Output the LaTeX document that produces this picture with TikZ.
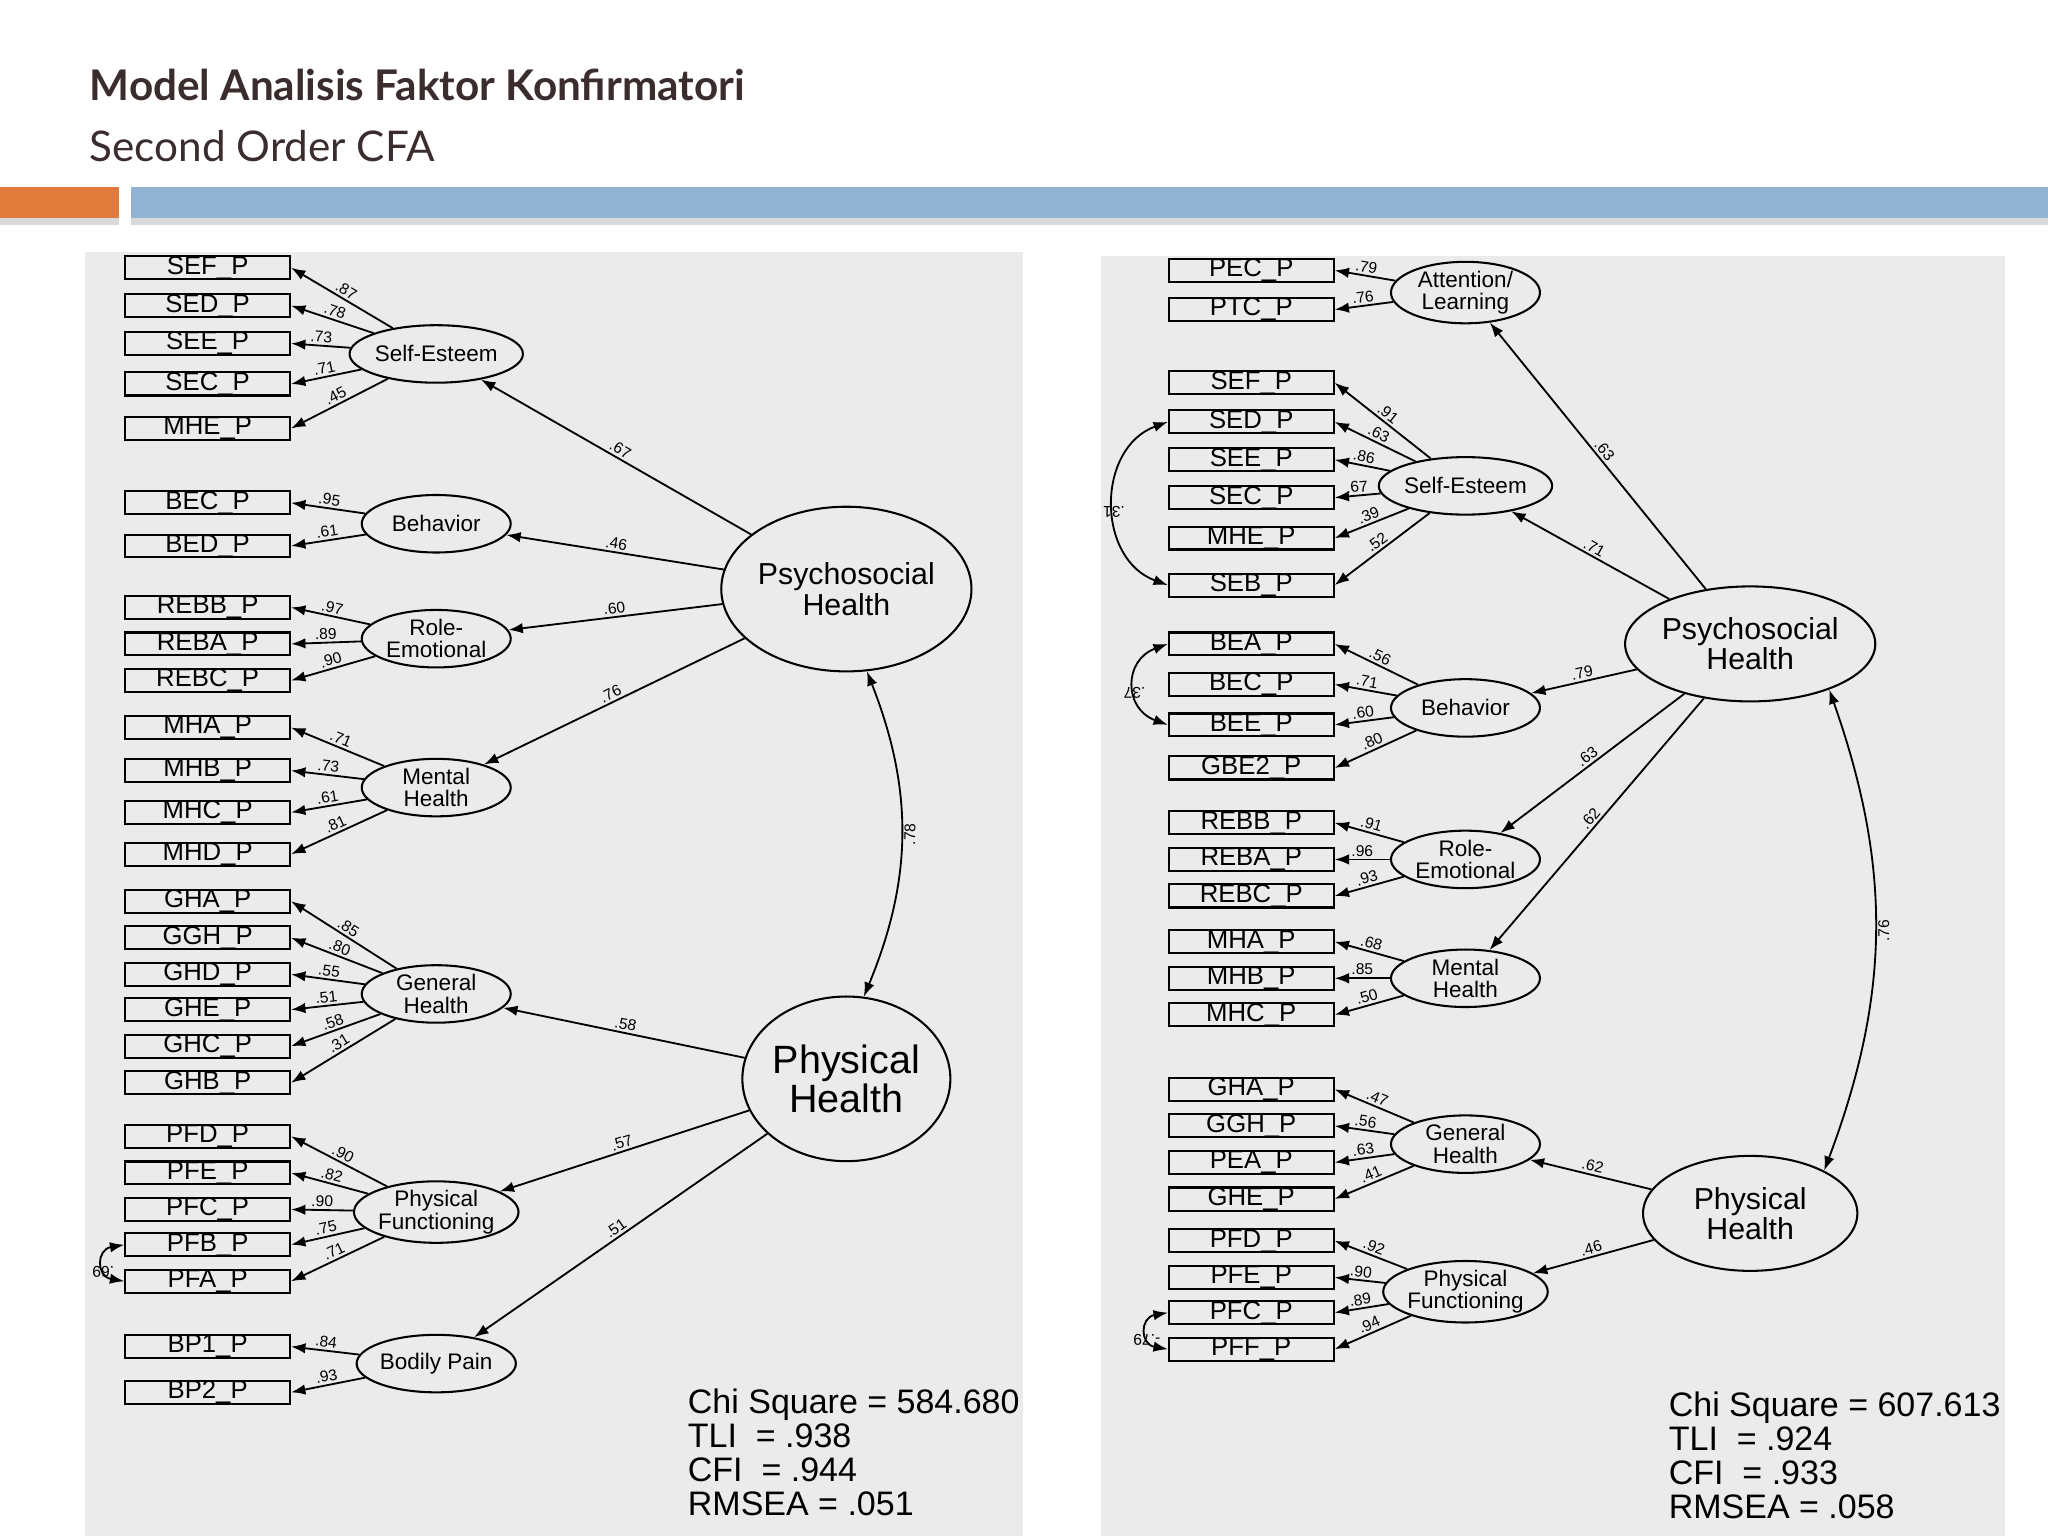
\documentclass[tikz,border=0pt]{standalone}
\usepackage{fontspec}
\setmainfont{Liberation Sans}
\newfontfamily\ttlfont{Lato}
\usetikzlibrary{shapes.geometric,arrows.meta,shadows}
\newcommand\fsz[1]{\fontsize{#1}{#1}\selectfont}
\definecolor{panel}{HTML}{EBEBEB}
\definecolor{ttl}{HTML}{3B2D2D}
\definecolor{orng}{HTML}{E07B3C}
\definecolor{blu}{HTML}{92B4D4}
\tikzset{
 ind/.style={draw,line width=0.45pt,minimum width=1.26cm,minimum height=0.17cm,inner sep=0pt,font=\fsz{5.6}},
 lat/.style={ellipse,draw,line width=0.45pt,minimum width=1.14cm,minimum height=0.44cm,inner sep=0pt,align=center,font=\fsz{4.9}},
 big/.style={ellipse,draw,line width=0.45pt,minimum width=1.56cm,minimum height=1.26cm,inner sep=0pt,align=center,font=\fsz{6.6}},
 arr/.style={line width=0.4pt,-{Latex[length=1.1mm,width=0.8mm]}},
 darr/.style={line width=0.4pt,{Latex[length=1.1mm,width=0.8mm]}-{Latex[length=1.1mm,width=0.8mm]}},
 ld/.style={font=\fsz{3.4},sloped,above,inner sep=0.5pt},
 fit/.style={anchor=north west,align=left,font=\fsz{7.4},inner sep=0pt}
}
\begin{document}
\begin{tikzpicture}[x=0.01cm,y=-0.01cm]
\useasboundingbox (0,0) rectangle (1568,1176);
\fill[white] (0,0) rectangle (1568,1176);
% header
\node[anchor=west,text=ttl,font=\ttlfont\bfseries\fsz{9.2},inner sep=0] (t1) at (68,65) {Model Analisis Faktor Konfirmatori};
\node[anchor=west,text=ttl,font=\ttlfont\fsz{9.2},inner sep=0] (t2) at (68,112) {Second Order CFA};
\fill[gray!30] (0,167) rectangle (91,172);
\fill[gray!30] (100,167) rectangle (1568,172);
\fill[orng] (0,143) rectangle (91,167);
\fill[blu] (100,143) rectangle (1568,167);
% panels
\fill[panel] (65,193) rectangle (783,1176);
\fill[panel] (843,196) rectangle (1535,1176);

%%%%% LEFT
\foreach \n/\y/\t in {LSEF/205/SEF,LSED/234/SED,LSEE/263/SEE,LSEC/294/SEC,LMHE/328/MHE,LBEC/385/BEC,LBED/418/BED,LREBB/465/REBB,LREBA/493/REBA,LREBC/521/REBC,LMHA/557/MHA,LMHB/590/MHB,LMHC/622/MHC,LMHD/654/MHD,LGHA/690/GHA,LGGH/718/GGH,LGHD/746/GHD,LGHE/773/GHE,LGHC/801/GHC,LGHB/829/GHB,LPFD/870/PFD,LPFE/898/PFE,LPFC/926/PFC,LPFB/953/PFB,LPFA/981/PFA,LBP1/1031/BP1,LBP2/1066/BP2}
 \node[ind] (\n) at (159,\y) {\t\_P};
\node[lat] (LSE) at (334,271) {Self-Esteem};
\node[lat] (LBE) at (334,401) {Behavior};
\node[lat] (LRE) at (334,489) {Role-\\Emotional};
\node[lat] (LMH) at (334,603) {Mental\\Health};
\node[lat] (LGH) at (334,761) {General\\Health};
\node[lat] (LPF) at (334,928) {Physical\\Functioning};
\node[lat] (LBP) at (334,1044) {Bodily Pain};
\node[big] (LPSY) at (648,451) {Psychosocial\\Health};
\node[big,font=\fsz{8.6}] (LPHY) at (648,826) {Physical\\Health};
\foreach \e/\b/\v in {LSE/LSEF/.87,LSE/LSED/.78,LSE/LSEE/.73,LSE/LSEC/.71,LSE/LMHE/.45,LBE/LBEC/.95,LBE/LBED/.61,LRE/LREBB/.97,LRE/LREBA/.89,LRE/LREBC/.90,LMH/LMHA/.71,LMH/LMHB/.73,LMH/LMHC/.61,LMH/LMHD/.81,LGH/LGHA/.85,LGH/LGGH/.80,LGH/LGHD/.55,LGH/LGHE/.51,LGH/LGHC/.58,LGH/LGHB/.31,LPF/LPFD/.90,LPF/LPFE/.82,LPF/LPFC/.90,LPF/LPFB/.75,LPF/LPFA/.71,LBP/LBP1/.84,LBP/LBP2/.93}
 \draw[arr] (\e) -- (\b.east) node[ld,pos=0.5] {\v};
\foreach \e/\v in {LSE/.67,LBE/.46,LRE/.60,LMH/.76}
 \draw[arr] (LPSY) -- (\e) node[ld,pos=0.5] {\v};
\foreach \e/\v in {LGH/.58,LPF/.57,LBP/.51}
 \draw[arr] (LPHY) -- (\e) node[ld,pos=0.5] {\v};
\draw[darr] (LPSY.-76) to[bend left=22] node[ld,pos=0.5,below] {.78} (LPHY.78);
\draw[darr] (LPFB.west) to[out=190,in=170,looseness=2] node[ld,left,rotate=-90,anchor=south] {.69} (LPFA.west);
\node[fit] (Lfit) at (526,1063) {Chi Square = 584.680\\TLI\ \ = .938\\CFI\ \ = .944\\RMSEA = .051};

%%%%% RIGHT
\foreach \n/\y/\t in {RPEC/207/PEC,RPTC/237/PTC,RSEF/293/SEF,RSED/323/SED,RSEE/352/SEE,RSEC/381/SEC,RMHE/412/MHE,RSEB/448/SEB,RBEA/493/BEA,RBEC/524/BEC,RBEE/555/BEE,RGBE/588/GBE2,RREBB/630/REBB,RREBA/658/REBA,RREBC/686/REBC,RMHA/721/MHA,RMHB/749/MHB,RMHC/777/MHC,RGHA/834/GHA,RGGH/862/GGH,RPEA/890/PEA,RGHE/918/GHE,RPFD/950/PFD,RPFE/978/PFE,RPFC/1005/PFC,RPFF/1033/PFF}
 \node[ind] (\n) at (958,\y) {\t\_P};
\node[lat] (RAL) at (1122,224) {Attention/\\Learning};
\node[lat] (RSE) at (1122,372) {Self-Esteem};
\node[lat] (RBE) at (1122,542) {Behavior};
\node[lat] (RRE) at (1122,658) {Role-\\Emotional};
\node[lat] (RMH) at (1122,749) {Mental\\Health};
\node[lat] (RGH) at (1122,876) {General\\Health};
\node[lat] (RPF) at (1122,989) {Physical\\Functioning};
\node[big,minimum width=1.64cm,minimum height=0.88cm] (RPSY) at (1340,493) {Psychosocial\\Health};
\node[big,minimum width=1.64cm,minimum height=0.88cm] (RPHY) at (1340,929) {Physical\\Health};
\foreach \e/\b/\v in {RAL/RPEC/.79,RAL/RPTC/.76,RSE/RSEF/.91,RSE/RSED/.63,RSE/RSEE/.86,RSE/RSEC/.67,RSE/RMHE/.39,RSE/RSEB/.52,RBE/RBEA/.56,RBE/RBEC/.71,RBE/RBEE/.60,RBE/RGBE/.80,RRE/RREBB/.91,RRE/RREBA/.96,RRE/RREBC/.93,RMH/RMHA/.68,RMH/RMHB/.85,RMH/RMHC/.50,RGH/RGHA/.47,RGH/RGGH/.56,RGH/RPEA/.63,RGH/RGHE/.41,RPF/RPFD/.92,RPF/RPFE/.90,RPF/RPFC/.89,RPF/RPFF/.94}
 \draw[arr] (\e) -- (\b.east) node[ld,pos=0.5] {\v};
\foreach \e/\v in {RAL/.63,RSE/.71,RBE/.79,RRE/.63,RMH/.62}
 \draw[arr] (RPSY) -- (\e) node[ld,pos=0.5] {\v};
\foreach \e/\v in {RGH/.62,RPF/.46}
 \draw[arr] (RPHY) -- (\e) node[ld,pos=0.5] {\v};
\draw[darr] (RPSY.-30) to[bend left=20] node[ld,pos=0.5,below] {.76} (RPHY.30);
\draw[darr] (RSED.west) to[out=200,in=160,looseness=1.2] node[ld,left,rotate=-90,anchor=south] {.31} (RSEB.west);
\draw[darr] (RBEA.west) to[out=200,in=160,looseness=1.5] node[ld,left,rotate=-90,anchor=south] {.37} (RBEE.west);
\draw[darr] (RPFC.west) to[out=190,in=170,looseness=2] node[ld,left,rotate=-90,anchor=south] {-.79} (RPFF.west);
\node[fit] (Rfit) at (1277,1065) {Chi Square = 607.613\\TLI\ \ = .924\\CFI\ \ = .933\\RMSEA = .058};
\end{tikzpicture}
\end{document}
